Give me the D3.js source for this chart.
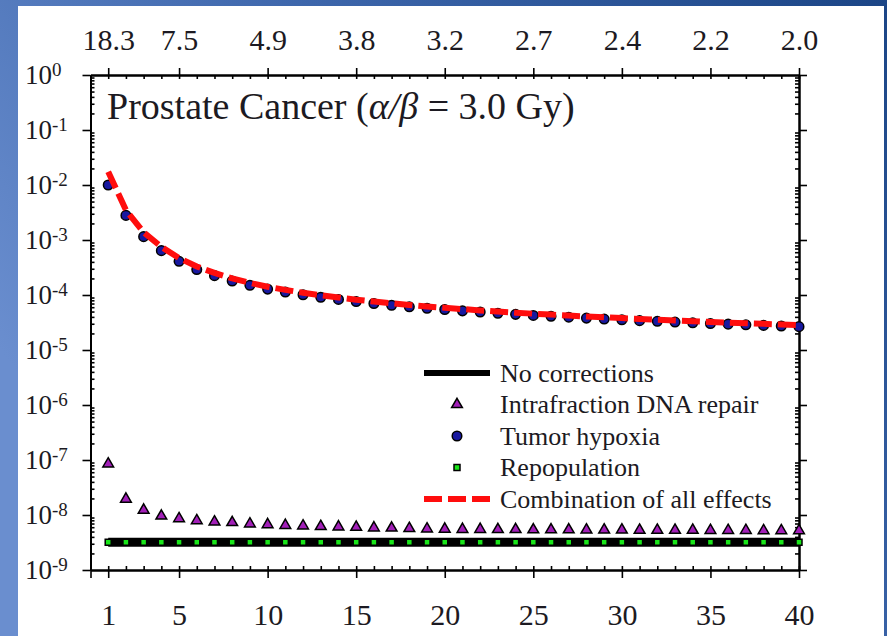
<!DOCTYPE html>
<html>
<head>
<meta charset="utf-8">
<script src="https://cdn.jsdelivr.net/npm/d3@7/dist/d3.min.js"></script>
<style>
body { margin: 0; background: #fff; }
svg text { font-family: "Liberation Serif", "Times New Roman", serif; fill: #1c1a22; }
.axis path, .axis line { stroke: #000; }
</style>
</head>
<body>
<div id="chart"></div>
<script>
// number of fractions (bottom axis) and the matching dose per fraction (top axis)
var fractions = d3.range(1, 41);
var majorFractions = [1, 5, 10, 15, 20, 25, 30, 35, 40];
var doseLabels = ["18.3", "7.5", "4.9", "3.8", "3.2", "2.7", "2.4", "2.2", "2.0"];
var decades = [1e-9, 1e-8, 1e-7, 1e-6, 1e-5, 1e-4, 1e-3, 1e-2, 1e-1, 1e0];

// values read per fraction number
var noCorrections = [3.2e-9, 3.2e-9, 3.2e-9, 3.2e-9, 3.2e-9, 3.2e-9, 3.2e-9, 3.2e-9, 3.2e-9, 3.2e-9,
    3.2e-9, 3.2e-9, 3.2e-9, 3.2e-9, 3.2e-9, 3.2e-9, 3.2e-9, 3.2e-9, 3.2e-9, 3.2e-9,
    3.2e-9, 3.2e-9, 3.2e-9, 3.2e-9, 3.2e-9, 3.2e-9, 3.2e-9, 3.2e-9, 3.2e-9, 3.2e-9,
    3.2e-9, 3.2e-9, 3.2e-9, 3.2e-9, 3.2e-9, 3.2e-9, 3.2e-9, 3.2e-9, 3.2e-9, 3.2e-9];
var dnaRepair = [8.5e-8, 1.95e-8, 1.23e-8, 9.6e-9, 8.6e-9, 7.9e-9, 7.5e-9, 7.3e-9, 6.9e-9, 6.7e-9,
    6.5e-9, 6.35e-9, 6.2e-9, 6.1e-9, 6.0e-9, 5.85e-9, 5.8e-9, 5.7e-9, 5.6e-9, 5.55e-9,
    5.5e-9, 5.5e-9, 5.45e-9, 5.45e-9, 5.4e-9, 5.4e-9, 5.4e-9, 5.35e-9, 5.35e-9, 5.35e-9,
    5.3e-9, 5.3e-9, 5.3e-9, 5.3e-9, 5.25e-9, 5.25e-9, 5.25e-9, 5.2e-9, 5.2e-9, 5.2e-9];
var hypoxia = [1.0e-2, 2.8e-3, 1.15e-3, 6.4e-4, 4.1e-4, 2.9e-4, 2.25e-4, 1.8e-4, 1.5e-4, 1.28e-4,
    1.13e-4, 1.01e-4, 9.1e-5, 8.3e-5, 7.6e-5, 7.0e-5, 6.5e-5, 6.1e-5, 5.75e-5, 5.45e-5,
    5.15e-5, 4.9e-5, 4.65e-5, 4.45e-5, 4.25e-5, 4.1e-5, 3.95e-5, 3.8e-5, 3.65e-5, 3.55e-5,
    3.42e-5, 3.32e-5, 3.22e-5, 3.12e-5, 3.03e-5, 2.95e-5, 2.87e-5, 2.8e-5, 2.73e-5, 2.66e-5];
var repopulation = [3.2e-9, 3.2e-9, 3.2e-9, 3.2e-9, 3.2e-9, 3.2e-9, 3.2e-9, 3.2e-9, 3.2e-9, 3.2e-9,
    3.2e-9, 3.2e-9, 3.2e-9, 3.2e-9, 3.2e-9, 3.2e-9, 3.2e-9, 3.2e-9, 3.2e-9, 3.2e-9,
    3.2e-9, 3.2e-9, 3.2e-9, 3.2e-9, 3.2e-9, 3.2e-9, 3.2e-9, 3.2e-9, 3.2e-9, 3.2e-9,
    3.2e-9, 3.2e-9, 3.2e-9, 3.2e-9, 3.2e-9, 3.2e-9, 3.2e-9, 3.2e-9, 3.2e-9, 3.2e-9];
var combination = [1.75e-2, 3.5e-3, 1.38e-3, 7.5e-4, 4.7e-4, 3.3e-4, 2.52e-4, 2.0e-4, 1.66e-4, 1.41e-4,
    1.24e-4, 1.1e-4, 9.9e-5, 9.0e-5, 8.2e-5, 7.6e-5, 7.05e-5, 6.6e-5, 6.2e-5, 5.85e-5,
    5.55e-5, 5.25e-5, 5.0e-5, 4.78e-5, 4.57e-5, 4.4e-5, 4.23e-5, 4.07e-5, 3.92e-5, 3.8e-5,
    3.67e-5, 3.55e-5, 3.45e-5, 3.34e-5, 3.24e-5, 3.15e-5, 3.07e-5, 2.99e-5, 2.91e-5, 2.84e-5];

var legendLabels = ["No corrections", "Intrafraction DNA repair", "Tumor hypoxia", "Repopulation", "Combination of all effects"];

dim = {
    'width': 887,
    'height': 636,
    'left': 90.5,
    'right': 799,
    'top': 75,
    'bottom': 570
};

var svg = d3.select("#chart").append("svg")
    .attr("width", dim.width)
    .attr("height", dim.height);

// slide background + white panel
var grad = svg.append("defs").append("linearGradient")
    .attr("id", "bg").attr("x1", "0").attr("y1", "0.55").attr("x2", "1").attr("y2", "0");
grad.append("stop").attr("offset", "0").attr("stop-color", "#6a8ecf");
grad.append("stop").attr("offset", "0.5").attr("stop-color", "#3d66ab");
grad.append("stop").attr("offset", "1").attr("stop-color", "#1b4586");
svg.append("rect").attr("width", dim.width).attr("height", dim.height).attr("fill", "url(#bg)");
svg.append("rect").attr("x", 18).attr("y", 6).attr("width", 866).attr("height", 630).attr("fill", "#fff");

var xScale = d3.scaleLinear().domain([0, 40]).range([dim.left, dim.right]);
var yScale = d3.scaleLog().domain([1e-9, 1]).range([dim.bottom, dim.top]);

var minorY = [];
decades.slice(0, 9).forEach(function (d) {
    for (var m = 2; m < 10; m++) minorY.push(d * m);
});

function styleAxis(g) {
    g.select(".domain").attr("stroke-width", 2);
    g.selectAll(".tick line").attr("stroke-width", 1.6);
}

// bottom
var gB = svg.append("g").attr("class", "axis").attr("transform", `translate(0,${dim.bottom})`);
gB.call(d3.axisBottom(xScale).tickValues(d3.range(0, 41)).tickSize(-4).tickSizeOuter(0).tickFormat(""));
var gB2 = svg.append("g").attr("class", "axis").attr("transform", `translate(0,${dim.bottom})`);
gB2.call(d3.axisBottom(xScale).tickValues([0].concat(majorFractions)).tickSize(8).tickSizeOuter(0)
    .tickPadding(26).tickFormat(d => d === 0 ? "" : d));
gB2.selectAll("text").attr("font-size", "30px").attr("font-family", "Liberation Serif");
styleAxis(gB); styleAxis(gB2);

// top (dose per fraction)
var gT = svg.append("g").attr("class", "axis").attr("transform", `translate(0,${dim.top})`);
gT.call(d3.axisTop(xScale).tickValues(d3.range(0, 41)).tickSize(-4).tickSizeOuter(0).tickFormat(""));
var gT2 = svg.append("g").attr("class", "axis").attr("transform", `translate(0,${dim.top})`);
gT2.call(d3.axisTop(xScale).tickValues(majorFractions).tickSize(7).tickSizeOuter(0)
    .tickPadding(18).tickFormat((d, i) => doseLabels[i]));
gT2.selectAll("text").attr("font-size", "30px").attr("font-family", "Liberation Serif");
styleAxis(gT); styleAxis(gT2);

// left
var gL = svg.append("g").attr("class", "axis").attr("transform", `translate(${dim.left},0)`);
gL.call(d3.axisLeft(yScale).tickValues(minorY).tickSize(-4).tickSizeOuter(0).tickFormat(""));
var gL2 = svg.append("g").attr("class", "axis").attr("transform", `translate(${dim.left},0)`);
gL2.call(d3.axisLeft(yScale).tickValues(decades).tickSize(8).tickSizeOuter(0).tickFormat(""));
gL2.selectAll(".tick").append("text")
    .attr("x", 25 - dim.left).attr("dy", "0.32em")
    .attr("text-anchor", "start").attr("font-size", "27px").attr("font-family", "Liberation Serif")
    .attr("fill", "#2a1a2e")
    .each(function (d) {
        var t = d3.select(this);
        var p = Math.round(Math.log10(d));
        t.append("tspan").text("10");
        t.append("tspan").attr("dy", "-0.42em").attr("font-size", "19px").text(p === 0 ? "0" : "-" + Math.abs(p));
    });
styleAxis(gL); styleAxis(gL2);

// right
var gR = svg.append("g").attr("class", "axis").attr("transform", `translate(${dim.right},0)`);
gR.call(d3.axisRight(yScale).tickValues(minorY).tickSize(-4).tickSizeOuter(0).tickFormat(""));
var gR2 = svg.append("g").attr("class", "axis").attr("transform", `translate(${dim.right},0)`);
gR2.call(d3.axisRight(yScale).tickValues(decades).tickSize(8).tickSizeOuter(0).tickFormat(""));
styleAxis(gR); styleAxis(gR2);

// title
var title = svg.append("text").attr("x", 107).attr("y", 119).attr("font-size", "38px");
title.append("tspan").text("Prostate Cancer (");
title.append("tspan").attr("font-style", "italic").text("α/β");
title.append("tspan").text(" = 3.0 Gy)");

var line = d3.line()
    .x((d, i) => xScale(fractions[i]))
    .y(d => yScale(d));

// no corrections
svg.append("path").datum(noCorrections)
    .attr("d", line).attr("fill", "none").attr("stroke", "#000").attr("stroke-width", 9);

// repopulation
svg.append("g").selectAll("path").data(repopulation).enter().append("path")
    .attr("d", d3.symbol().type(d3.symbolSquare).size(36))
    .attr("transform", (d, i) => `translate(${xScale(fractions[i])},${yScale(d)})`)
    .attr("fill", "#19e619").attr("stroke", "#000").attr("stroke-width", 1.5);

// intrafraction DNA repair
svg.append("g").selectAll("path").data(dnaRepair).enter().append("path")
    .attr("d", d3.symbol().type(d3.symbolTriangle).size(50))
    .attr("transform", (d, i) => `translate(${xScale(fractions[i])},${yScale(d)})`)
    .attr("fill", "#a21fb8").attr("stroke", "#000").attr("stroke-width", 1.5);

// tumor hypoxia
svg.append("g").selectAll("path").data(hypoxia).enter().append("path")
    .attr("d", d3.symbol().type(d3.symbolCircle).size(72))
    .attr("transform", (d, i) => `translate(${xScale(fractions[i])},${yScale(d)})`)
    .attr("fill", "#1818a0").attr("stroke", "#000").attr("stroke-width", 1.5);

// combination of all effects
svg.append("path").datum(combination)
    .attr("d", line).attr("fill", "none").attr("stroke", "#ff0d0d").attr("stroke-width", 6)
    .attr("stroke-dasharray", "18,6");

// legend
var legend = svg.append("g").attr("transform", "translate(424,373)");
var rowH = 31.5;
legendLabels.forEach(function (lab, i) {
    legend.append("text").attr("x", 76).attr("y", i * rowH).attr("dy", "0.34em")
        .attr("font-size", "26px").text(lab);
});
legend.append("line").attr("x1", 0).attr("x2", 66).attr("y1", 0).attr("y2", 0)
    .attr("stroke", "#000").attr("stroke-width", 6);
legend.append("path").attr("d", d3.symbol().type(d3.symbolTriangle).size(50))
    .attr("transform", `translate(33,${rowH})`)
    .attr("fill", "#a21fb8").attr("stroke", "#000").attr("stroke-width", 1.5);
legend.append("path").attr("d", d3.symbol().type(d3.symbolCircle).size(72))
    .attr("transform", `translate(33,${rowH * 2})`)
    .attr("fill", "#1818a0").attr("stroke", "#000").attr("stroke-width", 1.5);
legend.append("path").attr("d", d3.symbol().type(d3.symbolSquare).size(36))
    .attr("transform", `translate(33,${rowH * 3})`)
    .attr("fill", "#19e619").attr("stroke", "#000").attr("stroke-width", 1.5);
legend.append("line").attr("x1", 0).attr("x2", 66).attr("y1", rowH * 4).attr("y2", rowH * 4)
    .attr("stroke", "#ff0d0d").attr("stroke-width", 6).attr("stroke-dasharray", "18,6");
</script>
</body>
</html>
